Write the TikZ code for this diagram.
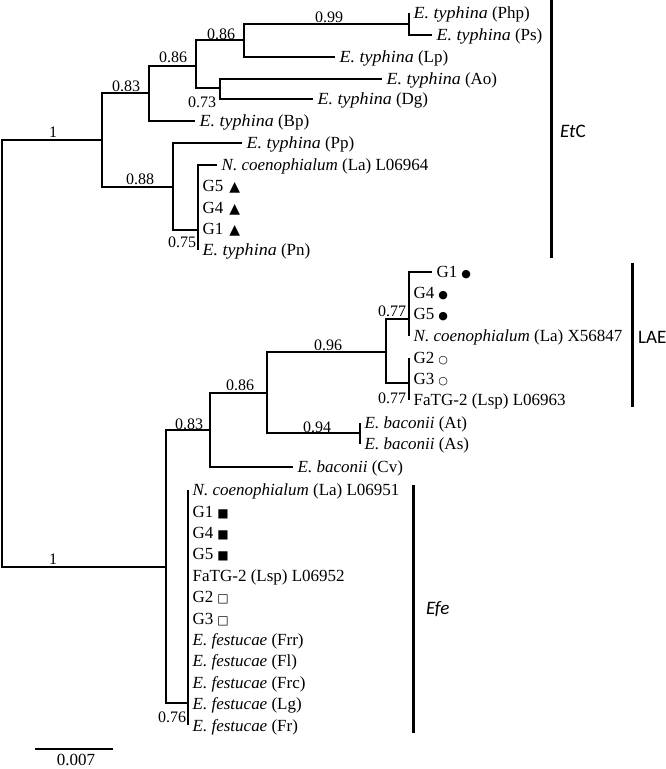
\documentclass[tikz,border=0pt]{standalone}
\usepackage{fontspec}
\setmainfont{Liberation Serif}
\newfontfamily\typhf{Liberation Serif}[FakeStretch=1.06]
\newfontfamily\symf{DejaVu Sans}
\newfontfamily\cladef{Carlito}
\newcommand\stri{\hspace{6pt}{\symf\fontsize{14}{14}\selectfont ▲}}
\newcommand\sdot{\hspace{4pt}{\symf\fontsize{11}{11}\selectfont ●}}
\newcommand\scirc{\hspace{4pt}{\symf\fontsize{11}{11}\selectfont ○}}
\newcommand\ssq{\hspace{4pt}{\symf\fontsize{12}{12}\selectfont ■}}
\newcommand\sosq{\hspace{4pt}{\symf\fontsize{12}{12}\selectfont □}}
\newcommand\et{{\typhf\itshape E. typhina}}
\newcommand\nc{\textit{N. coenophialum}}
\newcommand\eb{\textit{E. baconii}}
\newcommand\ef{\textit{E. festucae}}
\begin{document}
\begin{tikzpicture}[x=1pt,y=-1pt,
  br/.style={line width=2pt},
  cladebar/.style={line width=3pt},
  leaf/.style={anchor=west, inner xsep=4.5pt, inner ysep=0pt, text height=11.2pt, text depth=0pt, font=\fontsize{17}{20}\selectfont},
  bs/.style={inner sep=0pt, text height=10.6pt, text depth=0pt, font=\fontsize{16}{19}\selectfont},
  clade/.style={anchor=west, inner sep=0pt, font=\cladef\fontsize{19}{23}\selectfont}]
\useasboundingbox (0,0) rectangle (666,769);

% internal nodes
\coordinate (root) at (2,353.5);
\coordinate (etc) at (102,140);
\coordinate (a1) at (149,93);
\coordinate (a2) at (196,66);
\coordinate (a3) at (244,40);
\coordinate (a4) at (409,24);
\coordinate (a5) at (220,88);
\coordinate (b1) at (173,187);
\coordinate (b2) at (198,230);
\coordinate (c0) at (166,567);
\coordinate (c1) at (210,430);
\coordinate (c2) at (267,393);
\coordinate (c3) at (386,352);
\coordinate (c4) at (409,319);
\coordinate (c5) at (409,383);
\coordinate (c6) at (360,433);
\coordinate (e0) at (188,703);

% leaves (EtC)
\node[leaf] (php) at (409,13) {\et{} (Php)};
\node[leaf] (ps) at (432,35) {\et{} (Ps)};
\node[leaf] (lp) at (335,57) {\et{} (Lp)};
\node[leaf] (ao) at (382,79) {\et{} (Ao)};
\node[leaf] (dg) at (313,99) {\et{} (Dg)};
\node[leaf] (bp) at (195,121) {\et{} (Bp)};
\node[leaf] (pp) at (242,143) {\et{} (Pp)};
\node[leaf] (nca) at (217,165) {\nc{} (La) L06964};
\node[leaf] (g5a) at (198,186.3) {G5\stri};
\node[leaf] (g4a) at (198,207.6) {G4\stri};
\node[leaf] (g1a) at (198,228.9) {G1\stri};
\node[leaf] (pn) at (198,250.2) {\et{} (Pn)};

% leaves (LAE)
\node[leaf] (g1b) at (432,272) {G1\sdot};
\node[leaf] (g4b) at (409,293) {G4\sdot};
\node[leaf] (g5b) at (409,314) {G5\sdot};
\node[leaf] (ncb) at (409,336) {\nc{} (La) X56847};
\node[leaf] (g2b) at (409,358) {G2\scirc};
\node[leaf] (g3b) at (409,379) {G3\scirc};
\node[leaf] (fat) at (409,400) {FaTG-2 (Lsp) L06963};
\node[leaf] (at) at (360,423) {\eb{} (At)};
\node[leaf] (as) at (360,444) {\eb{} (As)};
\node[leaf] (cv) at (293,467) {\eb{} (Cv)};

% leaves (Efe)
\node[leaf] (ncc) at (188,490) {\nc{} (La) L06951};
\node[leaf] (g1c) at (188,511.4) {G1\ssq};
\node[leaf] (g4c) at (188,532.8) {G4\ssq};
\node[leaf] (g5c) at (188,554.2) {G5\ssq};
\node[leaf] (fac) at (188,575.6) {FaTG-2 (Lsp) L06952};
\node[leaf] (g2c) at (188,597) {G2\sosq};
\node[leaf] (g3c) at (188,618.4) {G3\sosq};
\node[leaf] (frr) at (188,639.8) {\ef{} (Frr)};
\node[leaf] (fl) at (188,661.2) {\ef{} (Fl)};
\node[leaf] (frc) at (188,682.6) {\ef{} (Frc)};
\node[leaf] (lg) at (188,704) {\ef{} (Lg)};
\node[leaf] (fr) at (188,725.4) {\ef{} (Fr)};

% branches
\draw[br] (root) |- (etc);
\draw[br] (root) |- (c0);
\draw[br] (etc) |- (a1);
\draw[br] (etc) |- (b1);
\draw[br] (a1) |- (a2);
\draw[br] (a1) |- (bp.west);
\draw[br] (a2) |- (a3);
\draw[br] (a2) |- (a5);
\draw[br] (a3) |- (a4);
\draw[br] (a3) |- (lp.west);
\draw[br] (a4) |- (php.west);
\draw[br] (a4) |- (ps.west);
\draw[br] (a5) |- (ao.west);
\draw[br] (a5) |- (dg.west);
\draw[br] (b1) |- (pp.west);
\draw[br] (b1) |- (b2);
\draw[br] (b2) |- (nca.west);
\draw[br] (b2) |- (g5a.west);
\draw[br] (b2) |- (g4a.west);
\draw[br] (b2) |- (g1a.west);
\draw[br] (b2) |- (pn.west);
\draw[br] (c0) |- (c1);
\draw[br] (c0) |- (e0);
\draw[br] (c1) |- (c2);
\draw[br] (c1) |- (cv.west);
\draw[br] (c2) |- (c3);
\draw[br] (c2) |- (c6);
\draw[br] (c3) |- (c4);
\draw[br] (c3) |- (c5);
\draw[br] (c4) |- (g1b.west);
\draw[br] (c4) |- (g4b.west);
\draw[br] (c4) |- (g5b.west);
\draw[br] (c4) |- (ncb.west);
\draw[br] (c5) |- (g2b.west);
\draw[br] (c5) |- (g3b.west);
\draw[br] (c5) |- (fat.west);
\draw[br] (c6) |- (at.west);
\draw[br] (c6) |- (as.west);
\foreach \l in {ncc,g1c,g4c,g5c,fac,g2c,g3c,frr,fl,frc,lg,fr}
  \draw[br] (e0) |- (\l.west);

% support values
\node[bs] (s1) at (53,132) {1};
\node[bs] (s2) at (53,559) {1};
\node[bs] (s3) at (126,86) {0.83};
\node[bs] (s4) at (173,57.5) {0.86};
\node[bs] (s5) at (221,34) {0.86};
\node[bs] (s6) at (329,17.5) {0.99};
\node[bs] (s7) at (202,102) {0.73};
\node[bs] (s8) at (140,179) {0.88};
\node[bs] (s9) at (182,242) {0.75};
\node[bs] (s10) at (328,345) {0.96};
\node[bs] (s11) at (392,311) {0.77};
\node[bs] (s12) at (392,398) {0.77};
\node[bs] (s13) at (240,385) {0.86};
\node[bs] (s14) at (317,427.5) {0.94};
\node[bs] (s15) at (189,424) {0.83};
\node[bs] (s16) at (172,717) {0.76};

% clade bars
\coordinate (etcT) at (551,0);
\coordinate (etcB) at (551,258);
\draw[cladebar] (etcT) -- (etcB);
\node[clade] (etclab) at (560,131) {\textit{Et}C};
\coordinate (laeT) at (632,263);
\coordinate (laeB) at (632,407);
\draw[cladebar] (laeT) -- (laeB);
\node[clade] (laelab) at (638,337) {LAE};
\coordinate (efeT) at (413,485);
\coordinate (efeB) at (413,733);
\draw[cladebar] (efeT) -- (efeB);
\node[clade] (efelab) at (426,609) {\textit{Efe}};

% scale bar
\coordinate (scL) at (35,749);
\coordinate (scR) at (113,749);
\draw[br] (scL) -- (scR);
\node[bs, font=\fontsize{17}{20}\selectfont] (sclab) at (76,760) {0.007};
\end{tikzpicture}
\end{document}
